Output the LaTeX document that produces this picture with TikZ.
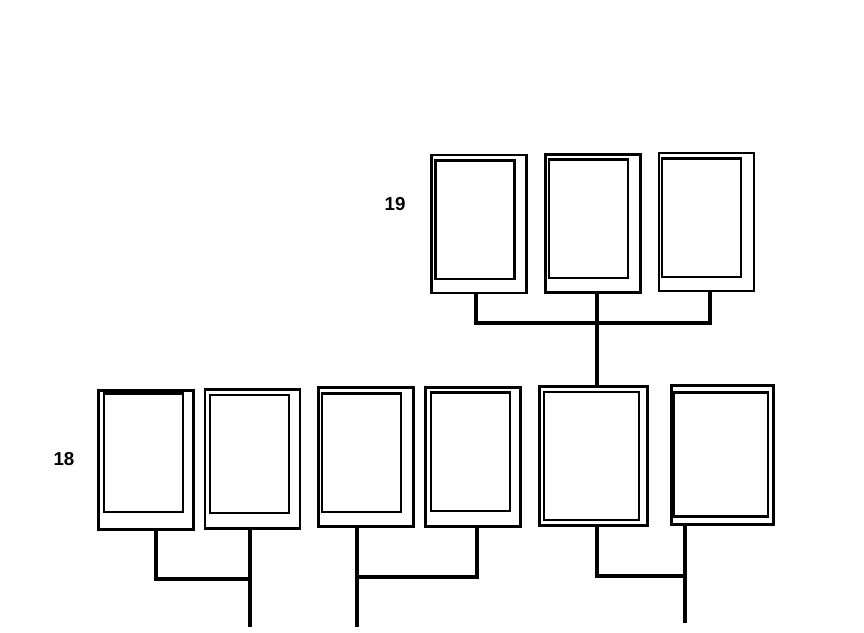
\documentclass[tikz,border=0pt]{standalone}
\usepackage{fontspec}
\setmainfont{Liberation Sans}
\usepackage{tikz}

\tikzset{
    panel/.style={draw, line width=2.5pt, inner sep=0pt, minimum width=2.85cm, minimum height=4.17cm},
    pane/.style={draw, line width=2pt, inner sep=0pt, minimum width=2.37cm, minimum height=3.55cm},
    wire/.style={line width=2.6pt},
    num/.style={font=\fontsize{16}{19}\selectfont\bfseries}
}

\begin{document}
\begin{tikzpicture}[x=0.03cm, y=-0.03cm]
    \useasboundingbox (0,0) rectangle (864,632);
    \node[num] (n19) at (395,204) {19};
    \node[num] (n18) at (64,459) {18};
    \node[panel, minimum height=4.14cm] (t1) at (479,224) {};
    \node[pane] (t1i) at (475,219.7) {};
    \node[panel, minimum height=4.14cm] (t2) at (593,223.3) {};
    \node[pane] (t2i) at (588.7,218.5) {};
    \node[panel, minimum height=4.14cm] (t3) at (706.5,222) {};
    \node[pane] (t3i) at (701.7,217.5) {};
    \node[panel] (b1) at (146,459.7) {};
    \node[pane] (b1i) at (143.7,452.8) {};
    \node[panel] (b2) at (252.5,458.7) {};
    \node[pane] (b2i) at (249.7,454) {};
    \node[panel] (b3) at (366.3,457.2) {};
    \node[pane] (b3i) at (361.8,452.7) {};
    \node[panel] (b4) at (472.8,456.8) {};
    \node[pane] (b4i) at (470.3,451.5) {};
    \node[panel, minimum width=3.24cm] (b5) at (593.2,455.8) {};
    \node[pane, minimum width=2.85cm, minimum height=3.84cm] (b5i) at (591.5,456.2) {};
    \node[panel, minimum width=3.06cm] (b6) at (722.5,455) {};
    \node[pane, minimum width=2.82cm, minimum height=3.72cm] (b6i) at (721.3,454.5) {};
    % 19
    \coordinate (k19) at (476,323.5);
    \coordinate (m19) at (710,323);
    \coordinate (s19) at (597,323);
    \draw[wire] (k19 |- t1.south) |- (m19) -- (m19 |- t3.south);
    \draw[wire] (s19 |- t2.south) -- (s19 |- b5.north);
    % 18
    \coordinate (e18a) at (250,627);
    \coordinate (k18a) at (156,579);
    \draw[wire] (e18a) -- (e18a |- b2.south);
    \draw[wire] (k18a |- b1.south) |- (e18a |- k18a);
    \coordinate (e18b) at (357,627);
    \coordinate (k18b) at (477,577);
    \draw[wire] (e18b) -- (e18b |- b3.south);
    \draw[wire] (k18b |- b4.south) |- (e18b |- k18b);
    \coordinate (e18c) at (685,623);
    \coordinate (k18c) at (597,576);
    \draw[wire] (e18c) -- (e18c |- b6.south);
    \draw[wire] (k18c |- b5.south) |- (e18c |- k18c);
\end{tikzpicture}
\end{document}
